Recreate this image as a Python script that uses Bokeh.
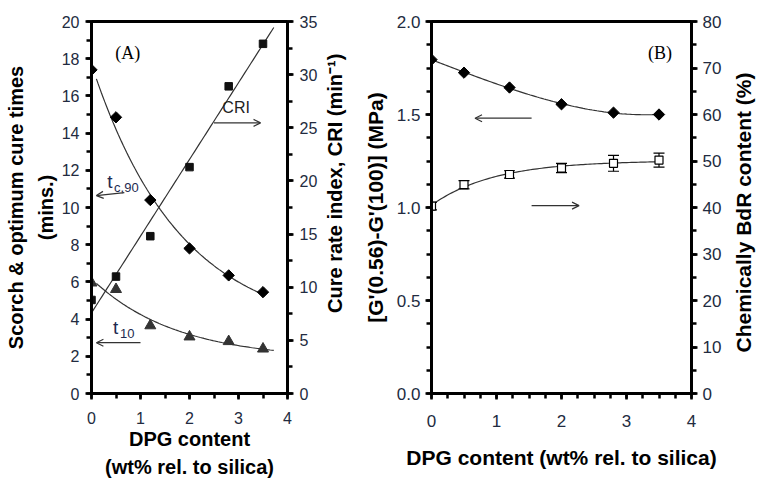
import numpy as np
from bokeh.plotting import figure
from bokeh.models import (LinearAxis, Range1d, SingleIntervalTicker, NumeralTickFormatter,
                          Arrow, OpenHead, Whisker, TeeHead, ColumnDataSource, Label)
from bokeh.layouts import row
from bokeh.embed import file_html
from bokeh.resources import INLINE

# ---------------- data ----------------
dpg = [0.0, 0.5, 1.2, 2.0, 2.8, 3.5]
tc90 = [17.4, 14.85, 10.4, 7.8, 6.35, 5.45]
t10 = [5.95, 5.6, 3.65, 3.05, 2.8, 2.4]
cri = [8.8, 11.0, 14.8, 21.3, 28.9, 32.9]
g_diff = [1.795, 1.725, 1.645, 1.555, 1.51, 1.50]
bdr = [40.3, 44.9, 47.1, 48.5, 49.5, 50.2]
bdr_err = [0.8, 0.9, 0.8, 1.0, 1.7, 1.5]

TICK_COLOR = "#222b40"
LINE_COLOR = "#333333"
H = 481
TOP, BOTTOM = 21, 87


def exp_fit(x, y):
    x = np.asarray(x, float)
    y = np.asarray(y, float)
    best = None
    for c in np.linspace(0.05, 3.0, 600):
        A = np.column_stack([np.ones_like(x), np.exp(-c * x)])
        coef, *_ = np.linalg.lstsq(A, y, rcond=None)
        r = np.sum((A @ coef - y) ** 2)
        if best is None or r < best[0]:
            best = (r, c, coef)
    _, c, coef = best
    return lambda xx: coef[0] + coef[1] * np.exp(-c * np.asarray(xx))


def style_axis(ax, tick_size, label_size):
    ax.axis_line_width = 3
    ax.axis_line_color = "black"
    ax.major_tick_line_width = 2.5
    ax.minor_tick_line_width = 2.5
    ax.major_tick_line_color = "black"
    ax.minor_tick_line_color = "black"
    ax.major_tick_out = 6
    ax.major_tick_in = 0
    ax.minor_tick_out = 5
    ax.minor_tick_in = 0
    ax.major_label_text_font = "Liberation Sans"
    ax.major_label_text_font_size = tick_size
    ax.major_label_text_color = TICK_COLOR
    ax.axis_label_text_font = "Liberation Sans"
    ax.axis_label_text_font_style = "bold"
    ax.axis_label_text_font_size = label_size
    ax.axis_label_text_color = "black"
    ax.axis_label_text_line_height = 1.1


def title_strip(width, y_range, x, y, text, size):
    """Narrow, axis-less figure whose frame holds a bottom-to-top axis title."""
    s = figure(width=width, height=H, x_range=Range1d(0, 1), y_range=y_range,
               x_axis_location=None, y_axis_location=None,
               output_backend="svg", toolbar_location=None,
               min_border_left=0, min_border_right=0, min_border_top=TOP, min_border_bottom=BOTTOM)
    s.outline_line_color = None
    s.grid.visible = False
    s.add_layout(Label(x=x, y=y, text=text, angle=np.pi / 2, text_align="center",
                       text_baseline="middle", text_font="Liberation Sans",
                       text_font_style="bold", text_font_size=size, text_color="black"))
    return s


def arrow(p, x0, y0, x1, y1, rng="default"):
    p.add_layout(Arrow(end=OpenHead(size=7, line_width=1.2, line_color=LINE_COLOR),
                       x_start=x0, y_start=y0, x_end=x1, y_end=y1,
                       line_width=1.2, line_color=LINE_COLOR, y_range_name=rng))


# ---------------- panel A ----------------
p1 = figure(width=320, height=H, x_range=Range1d(0, 4), y_range=Range1d(0, 20),
            output_backend="svg", toolbar_location=None,
            min_border_left=91, min_border_right=31, min_border_top=TOP, min_border_bottom=BOTTOM)
p1.extra_y_ranges = {"cri": Range1d(0, 35)}
p1.add_layout(LinearAxis(y_range_name="cri",
                         ticker=SingleIntervalTicker(interval=5, num_minor_ticks=2)), "right")
p1.xaxis.ticker = SingleIntervalTicker(interval=1, num_minor_ticks=2)
p1.left[0].ticker = SingleIntervalTicker(interval=2, num_minor_ticks=2)
p1.left[0].axis_label = "Scorch & optimum cure times\n(mins.)"
p1.xaxis.axis_label = "DPG content\n(wt% rel. to silica)"
for ax in p1.xaxis + p1.yaxis:
    style_axis(ax, "16px", "20px")
p1.left[0].axis_label_text_line_height = 1.35
p1.left[0].axis_label_standoff = 2
p1.left[0].major_label_standoff = 6
p1.right[0].major_label_standoff = 6
p1.xaxis.axis_label_standoff = 1
p1.xaxis.major_label_standoff = 12
p1.xaxis.axis_label_text_line_height = 1.3
p1.grid.visible = False
p1.outline_line_color = "black"
p1.outline_line_width = 3
p1.outline_line_alpha = 1

src1 = ColumnDataSource(dict(dpg=dpg, tc90=tc90, t10=t10, cri=cri))

f_tc = exp_fit(dpg, tc90)
xs = np.linspace(0.1, 3.5, 100)
p1.line(xs, f_tc(xs), line_color=LINE_COLOR, line_width=1.2)
f_t10 = exp_fit(dpg, t10)
xs = np.linspace(0.1, 3.72, 100)
p1.line(xs, f_t10(xs), line_color=LINE_COLOR, line_width=1.2)
c_cri = np.polyfit(dpg, cri, 1)
xs = np.linspace(-0.1, 3.72, 100)
p1.line(xs, np.polyval(c_cri, xs), line_color=LINE_COLOR, line_width=1.2, y_range_name="cri")

p1.scatter("dpg", "tc90", source=src1, marker="square", angle=np.pi / 4, size=8, color="black")
p1.scatter("dpg", "cri", source=src1, marker="square", size=7.5, color="#111111", y_range_name="cri")
p1.scatter("dpg", "t10", source=src1, marker="triangle", size=11, color="#333333")

p1.add_layout(Label(x=0.485, y=18.3, text="(A)", text_font="Liberation Serif",
                    text_font_size="18px", text_baseline="middle", text_color="black"))
p1.add_layout(Label(x=2.67, y=15.35, text="CRI", text_font="Liberation Sans",
                    text_font_size="16px", text_baseline="middle", text_color="#222222"))
arrow(p1, 2.5, 14.55, 3.45, 14.55)
p1.add_layout(Label(x=0.32, y=11.4, text="t", text_font="Liberation Sans",
                    text_font_size="19px", text_baseline="middle", text_color="#1e2a50"))
p1.add_layout(Label(x=0.46, y=11.05, text="c,90", text_font="Liberation Sans",
                    text_font_size="13px", text_baseline="middle", text_color="#1e2a50"))
arrow(p1, 0.67, 10.8, 0.1, 10.64)
p1.add_layout(Label(x=0.44, y=3.53, text="t", text_font="Liberation Sans",
                    text_font_size="19px", text_baseline="middle", text_color="#1e2a50"))
p1.add_layout(Label(x=0.58, y=3.2, text="10", text_font="Liberation Sans",
                    text_font_size="13px", text_baseline="middle", text_color="#1e2a50"))
arrow(p1, 1.0, 2.73, 0.1, 2.73)

strip1 = title_strip(40, Range1d(0, 20), 0.37, 11.3, "Cure rate index, CRI (min⁻¹)", "20px")

# ---------------- panel B ----------------
p2 = figure(width=364, height=H, x_range=Range1d(0, 4), y_range=Range1d(0, 2),
            output_backend="svg", toolbar_location=None,
            min_border_left=70, min_border_right=31, min_border_top=TOP, min_border_bottom=BOTTOM)
p2.extra_y_ranges = {"bdr": Range1d(0, 80)}
p2.add_layout(LinearAxis(y_range_name="bdr",
                         ticker=SingleIntervalTicker(interval=10, num_minor_ticks=2)), "right")
p2.xaxis.ticker = SingleIntervalTicker(interval=1, num_minor_ticks=4)
p2.left[0].ticker = SingleIntervalTicker(interval=0.5, num_minor_ticks=4)
p2.left[0].formatter = NumeralTickFormatter(format="0.0")
p2.left[0].axis_label = "[G'(0.56)-G'(100)] (MPa)"
p2.xaxis.axis_label = "DPG content (wt% rel. to silica)"
for ax in p2.xaxis + p2.yaxis:
    style_axis(ax, "17px", "21px")
p2.left[0].axis_label_standoff = 7
p2.left[0].major_label_standoff = 5
p2.right[0].major_label_standoff = 5
p2.xaxis.axis_label_standoff = 16
p2.xaxis.major_label_standoff = 15
p2.grid.visible = False
p2.outline_line_color = "black"
p2.outline_line_width = 3

src2 = ColumnDataSource(dict(dpg=dpg, g=g_diff, bdr=bdr,
                             lo=[b - e for b, e in zip(bdr, bdr_err)],
                             hi=[b + e for b, e in zip(bdr, bdr_err)]))

c_g = np.polyfit(dpg, g_diff, 3)
xs = np.linspace(0.0, 3.5, 100)
p2.line(xs, np.polyval(c_g, xs), line_color=LINE_COLOR, line_width=1.2)
f_bdr = exp_fit(dpg, bdr)
p2.line(xs, f_bdr(xs), line_color=LINE_COLOR, line_width=1.2, y_range_name="bdr")

p2.add_layout(Whisker(source=src2, base="dpg", lower="lo", upper="hi", dimension="height",
                      y_range_name="bdr", line_color="black", line_width=1.2,
                      lower_head=TeeHead(size=11, line_color="black", line_width=1.2),
                      upper_head=TeeHead(size=11, line_color="black", line_width=1.2)))
p2.scatter("dpg", "g", source=src2, marker="square", angle=np.pi / 4, size=8, color="black")
p2.scatter("dpg", "bdr", source=src2, marker="square", size=8, fill_color="white",
           line_color="black", line_width=1.2, y_range_name="bdr")

p2.add_layout(Label(x=3.33, y=1.83, text="(B)", text_font="Liberation Serif",
                    text_font_size="18px", text_baseline="middle", text_color="black"))
arrow(p2, 1.54, 1.48, 0.67, 1.48)
arrow(p2, 1.54, 1.01, 2.27, 1.01)

strip2 = title_strip(32, Range1d(0, 2), 0.6, 0.973, "Chemically BdR content (%)", "21px")

layout = row(p1, strip1, p2, strip2, spacing=0)
open("out.html", "w").write(file_html(layout, INLINE))
